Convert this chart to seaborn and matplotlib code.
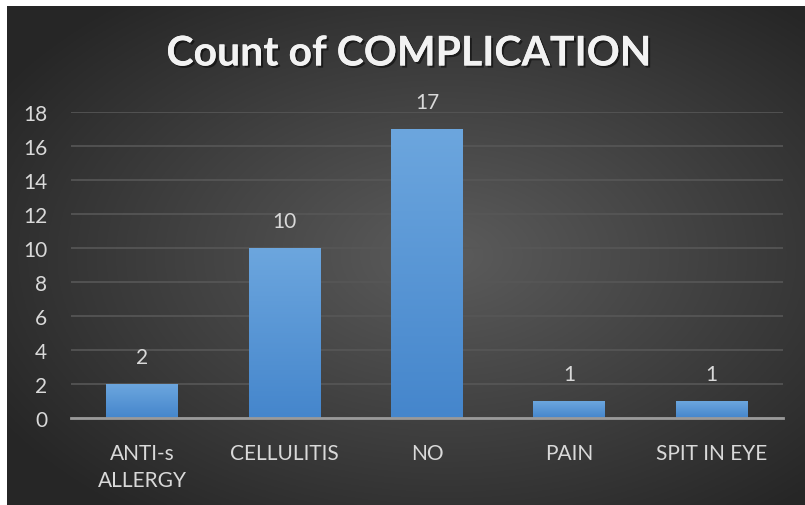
import matplotlib
matplotlib.use('Agg')
import matplotlib.pyplot as plt
import matplotlib.patheffects as pe
import numpy as np
import pandas as pd
import seaborn as sns

# data
categories = ['ANTI-s\nALLERGY', 'CELLULITIS', 'NO', 'PAIN', 'SPIT IN EYE']
counts = [2, 10, 17, 1, 1]
title = 'Count of COMPLICATION'

df = pd.DataFrame({'complication': categories, 'count': counts})

sns.set_style('dark')
plt.rcParams['font.family'] = ['Lato', 'DejaVu Sans']

fig = plt.figure(figsize=(8.05, 5.06), dpi=100)
fig.patch.set_facecolor('white')

# radial gradient background (white margin top/left)
bg = fig.add_axes([7 / 805, 0, 1 - 7 / 805, 1 - 7 / 506], zorder=0)
yy, xx = np.mgrid[0:1:300j, 0:1:500j]
r = np.sqrt(((xx - 0.55) / 0.75) ** 2 + ((yy - 0.5) / 0.75) ** 2)
shade = np.clip(0.36 - 0.24 * r, 0.15, 0.36)
bg.imshow(np.dstack([shade] * 3), aspect='auto', extent=[0, 1, 0, 1], origin='lower')
bg.axis('off')

ax = fig.add_axes([71 / 805, 1 - 419 / 506, 712 / 805, 306 / 506], zorder=1)
ax.patch.set_alpha(0)

sns.barplot(data=df, x='complication', y='count', color='#5b9bd5', width=0.505,
            saturation=1, linewidth=0, ax=ax, zorder=3)

# gradient fill on bars
grad = np.linspace(0, 1, 100).reshape(-1, 1)
top_c = np.array([0x6c, 0xa6, 0xde]) / 255
bot_c = np.array([0x45, 0x86, 0xcc]) / 255
for p in ax.patches:
    x0, y0 = p.get_x(), p.get_y()
    w, h = p.get_width(), p.get_height()
    img = bot_c + (top_c - bot_c) * grad[:, :, None] * np.ones((1, 2, 1))
    im = ax.imshow(img, extent=[x0, x0 + w, y0, y0 + h], origin='lower',
                   aspect='auto', zorder=4)
    im.set_clip_path(p)

ax.set_xlim(-0.5, 4.5)
ax.set_ylim(0, 18)
ax.set_yticks(range(0, 19, 2))
ax.set_xlabel('')
ax.set_ylabel('')
ax.yaxis.grid(True, color='#575757', linewidth=1.2, zorder=0)
ax.xaxis.grid(False)
for s in ['top', 'right', 'left']:
    ax.spines[s].set_visible(False)
ax.spines['bottom'].set_color('#9a9a9a')
ax.spines['bottom'].set_linewidth(2)
ax.spines['bottom'].set_zorder(5)
ax.tick_params(axis='both', length=0, colors='#d9d9d9', labelsize=15)
ax.tick_params(axis='y', pad=17)
ax.tick_params(axis='x', pad=18)
for lab in ax.get_xticklabels():
    lab.set_linespacing(1.45)

for c in ax.containers:
    ax.bar_label(c, padding=12, color='#d9d9d9', fontsize=15)

fig.text(0.508, 1 - 55 / 506, title, ha='center', va='center', color='#f2f2f2',
         fontsize=29.5, fontweight='bold',
         path_effects=[pe.withSimplePatchShadow(offset=(1.5, -1.5), shadow_rgbFace='black', alpha=0.5), pe.Normal()])

fig.savefig('out.png', dpi=100)
